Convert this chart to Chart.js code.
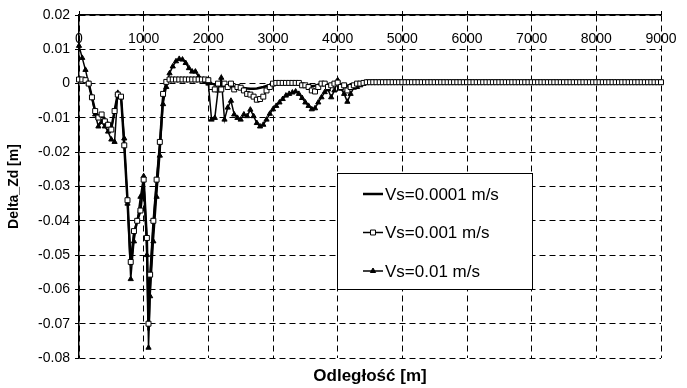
<!DOCTYPE html>
<html>
<head>
<meta charset="utf-8">
<script src="https://cdn.jsdelivr.net/npm/chart.js@4.4.0/dist/chart.umd.min.js"></script>
<style>
  body { margin: 0; background: #fff; }
  canvas { display: block; }
</style>
</head>
<body>
<canvas id="chart" width="687" height="388"></canvas>
<script>
// distance along profile [m]
const distances = [
  0, 50, 100, 150, 200, 250, 300, 350, 400, 450,
  500, 550, 600, 650, 700, 750, 800, 850, 900, 950,
  1000, 1050, 1075, 1100, 1150, 1200, 1250, 1300, 1350, 1400,
  1450, 1500, 1550, 1600, 1650, 1700, 1750, 1800, 1850, 1900,
  1950, 2000, 2050, 2100, 2150, 2200, 2250, 2300, 2350, 2400,
  2450, 2500, 2550, 2600, 2650, 2700, 2750, 2800, 2850, 2900,
  2950, 3000, 3050, 3100, 3150, 3200, 3250, 3300, 3350, 3400,
  3450, 3500, 3550, 3600, 3650, 3700, 3750, 3800, 3850, 3900,
  3950, 4000, 4050, 4100, 4150, 4200, 4250, 4300, 4350, 4400,
  4450, 4500, 4550, 4600, 4650, 4700, 4750, 4800, 4850, 4900,
  4950, 5000, 5050, 5100, 5150, 5200, 5250, 5300, 5350, 5400,
  5450, 5500, 5550, 5600, 5650, 5700, 5750, 5800, 5850, 5900,
  5950, 6000, 6050, 6100, 6150, 6200, 6250, 6300, 6350, 6400,
  6450, 6500, 6550, 6600, 6650, 6700, 6750, 6800, 6850, 6900,
  6950, 7000, 7050, 7100, 7150, 7200, 7250, 7300, 7350, 7400,
  7450, 7500, 7550, 7600, 7650, 7700, 7750, 7800, 7850, 7900,
  7950, 8000, 8050, 8100, 8150, 8200, 8250, 8300, 8350, 8400,
  8450, 8500, 8550, 8600, 8650, 8700, 8750, 8800, 8850, 8900,
  8950, 9000
];

// Vs=0.0001 m/s
const dz00001 = [
  0.0012, 0.0012, 0.001, 0.0, -0.004, -0.008, -0.0095, -0.009, -0.0105, -0.0115,
  -0.013, -0.008, -0.003, -0.0035, -0.018, -0.034, -0.053, -0.044, -0.040, -0.037,
  -0.028, -0.046, -0.072, -0.057, -0.041, -0.029, -0.018, -0.004, 0.0, 0.0012,
  0.0012, 0.0012, 0.0012, 0.0012, 0.0012, 0.0012, 0.0012, 0.0012, 0.0012, 0.0012,
  0.0012, 0.001, 0.0, -0.0003, -0.0005, -0.0005, -0.0007, -0.0008, -0.001, -0.001,
  -0.0012, -0.0012, -0.0013, -0.0014, -0.0015, -0.0015, -0.0014, -0.0012, -0.001, -0.0007,
  -0.0004, 0.0, 0.0002, 0.0002, 0.0002, 0.0002, 0.0002, 0.0002, 0.0002, 0.0002,
  0.0, -0.0003, -0.0006, -0.0008, -0.0006, -0.0003, 0.0, 0.0, -0.0003, -0.0002,
  0.0, 0.0003, -0.0003, -0.0003, -0.0006, -0.0004, -0.0002, 0.0, 0.0002, 0.0003,
  0.0004, 0.0004, 0.0004, 0.0004, 0.0004, 0.0004, 0.0004, 0.0004, 0.0004, 0.0004,
  0.0004, 0.0004, 0.0004, 0.0004, 0.0004, 0.0004, 0.0004, 0.0004, 0.0004, 0.0004,
  0.0004, 0.0004, 0.0004, 0.0004, 0.0004, 0.0004, 0.0004, 0.0004, 0.0004, 0.0004,
  0.0004, 0.0004, 0.0004, 0.0004, 0.0004, 0.0004, 0.0004, 0.0004, 0.0004, 0.0004,
  0.0004, 0.0004, 0.0004, 0.0004, 0.0004, 0.0004, 0.0004, 0.0004, 0.0004, 0.0004,
  0.0004, 0.0004, 0.0004, 0.0004, 0.0004, 0.0004, 0.0004, 0.0004, 0.0004, 0.0004,
  0.0004, 0.0004, 0.0004, 0.0004, 0.0004, 0.0004, 0.0004, 0.0004, 0.0004, 0.0004,
  0.0004, 0.0004, 0.0004, 0.0004, 0.0004, 0.0004, 0.0004, 0.0004, 0.0004, 0.0004,
  0.0004, 0.0004, 0.0004, 0.0004, 0.0004, 0.0004, 0.0004, 0.0004, 0.0004, 0.0004,
  0.0004, 0.0004
];

// Vs=0.001 m/s
const dz0001 = [
  0.0012, 0.0012, 0.001, 0.0, -0.004, -0.008, -0.0099, -0.009, -0.011, -0.012,
  -0.0134, -0.008, -0.0032, -0.0038, -0.018, -0.034, -0.052, -0.043, -0.040, -0.037,
  -0.028, -0.045, -0.070, -0.0557, -0.040, -0.028, -0.017, -0.003, 0.0005, 0.0012,
  0.0012, 0.0012, 0.0012, 0.0012, 0.0012, 0.0012, 0.0012, 0.0012, 0.0012, 0.0012,
  0.0012, 0.001, -0.001, -0.0017, 0.0, -0.0017, 0.0, -0.001, 0.0, -0.0017,
  -0.001, -0.0012, -0.002, -0.003, -0.0032, -0.0038, -0.0047, -0.0045, -0.0038, -0.002,
  -0.001, 0.0, 0.0002, 0.0002, 0.0002, 0.0002, 0.0002, 0.0002, 0.0002, 0.0002,
  -0.0005, -0.0005, -0.001, -0.002, -0.0023, -0.001, 0.0, 0.0, -0.001, -0.0005,
  0.0, 0.0003, -0.001, -0.0005, -0.002, -0.001, -0.0005, 0.0, 0.0, 0.0002,
  0.0004, 0.0004, 0.0004, 0.0004, 0.0004, 0.0004, 0.0004, 0.0004, 0.0004, 0.0004,
  0.0004, 0.0004, 0.0004, 0.0004, 0.0004, 0.0004, 0.0004, 0.0004, 0.0004, 0.0004,
  0.0004, 0.0004, 0.0004, 0.0004, 0.0004, 0.0004, 0.0004, 0.0004, 0.0004, 0.0004,
  0.0004, 0.0004, 0.0004, 0.0004, 0.0004, 0.0004, 0.0004, 0.0004, 0.0004, 0.0004,
  0.0004, 0.0004, 0.0004, 0.0004, 0.0004, 0.0004, 0.0004, 0.0004, 0.0004, 0.0004,
  0.0004, 0.0004, 0.0004, 0.0004, 0.0004, 0.0004, 0.0004, 0.0004, 0.0004, 0.0004,
  0.0004, 0.0004, 0.0004, 0.0004, 0.0004, 0.0004, 0.0004, 0.0004, 0.0004, 0.0004,
  0.0004, 0.0004, 0.0004, 0.0004, 0.0004, 0.0004, 0.0004, 0.0004, 0.0004, 0.0004,
  0.0004, 0.0004, 0.0004, 0.0004, 0.0004, 0.0004, 0.0004, 0.0004, 0.0004, 0.0004,
  0.0004, 0.0004
];

// Vs=0.01 m/s
const dz001 = [
  0.011, 0.0075, 0.004, 0.0, -0.004, -0.009, -0.0125, -0.0112, -0.0125, -0.014,
  -0.0163, -0.017, -0.0027, -0.004, -0.016, -0.035, -0.057, -0.046, -0.040, -0.033,
  -0.027, -0.050, -0.077, -0.062, -0.046, -0.033, -0.021, -0.006, -0.001, 0.003,
  0.005, 0.0065, 0.0072, 0.007, 0.006, 0.0045, 0.0035, 0.0035, 0.002, 0.001,
  0.0005, 0.0, -0.0105, -0.010, -0.002, 0.0017, -0.0105, -0.007, -0.005, -0.009,
  -0.010, -0.0105, -0.009, -0.0095, -0.0076, -0.0095, -0.0115, -0.0125, -0.012, -0.0105,
  -0.0088, -0.0075, -0.0065, -0.0055, -0.0045, -0.0035, -0.003, -0.0026, -0.0023, -0.003,
  -0.0042, -0.0055, -0.0065, -0.0075, -0.0072, -0.0055, -0.004, -0.0025, -0.0017, -0.004,
  -0.002, 0.001, -0.0015, -0.003, -0.0053, -0.003, -0.0012, -0.001, -0.0005, 0.0,
  0.0004, 0.0004, 0.0004, 0.0004, 0.0004, 0.0004, 0.0004, 0.0004, 0.0004, 0.0004,
  0.0004, 0.0004, 0.0004, 0.0004, 0.0004, 0.0004, 0.0004, 0.0004, 0.0004, 0.0004,
  0.0004, 0.0004, 0.0004, 0.0004, 0.0004, 0.0004, 0.0004, 0.0004, 0.0004, 0.0004,
  0.0004, 0.0004, 0.0004, 0.0004, 0.0004, 0.0004, 0.0004, 0.0004, 0.0004, 0.0004,
  0.0004, 0.0004, 0.0004, 0.0004, 0.0004, 0.0004, 0.0004, 0.0004, 0.0004, 0.0004,
  0.0004, 0.0004, 0.0004, 0.0004, 0.0004, 0.0004, 0.0004, 0.0004, 0.0004, 0.0004,
  0.0004, 0.0004, 0.0004, 0.0004, 0.0004, 0.0004, 0.0004, 0.0004, 0.0004, 0.0004,
  0.0004, 0.0004, 0.0004, 0.0004, 0.0004, 0.0004, 0.0004, 0.0004, 0.0004, 0.0004,
  0.0004, 0.0004, 0.0004, 0.0004, 0.0004, 0.0004, 0.0004, 0.0004, 0.0004, 0.0004,
  0.0004, 0.0004
];

const seriesLabels = ["Vs=0.0001 m/s", "Vs=0.001 m/s", "Vs=0.01 m/s"];

const fontFamily = "Arial, 'Liberation Sans', sans-serif";

function toPoints(values) {
  return distances.map((d, i) => ({ x: d, y: values[i] }));
}

// legend drawn as a framed box inside the plot, like the original
const boxLegend = {
  id: "boxLegend",
  afterDraw(chart) {
    const ctx = chart.ctx;
    const left = 337, top = 173, w = 195, h = 116;
    ctx.save();
    ctx.fillStyle = "#fff";
    ctx.fillRect(left, top, w, h);
    ctx.strokeStyle = "#000";
    ctx.lineWidth = 1;
    ctx.strokeRect(left + 0.5, top + 0.5, w, h);

    chart.data.datasets.forEach((ds, i) => {
      const y = 194 + i * 38.5;
      ctx.strokeStyle = "#000";
      ctx.lineWidth = ds.borderWidth;
      ctx.beginPath();
      ctx.moveTo(363, y);
      ctx.lineTo(383, y);
      ctx.stroke();
      if (ds.pointRadius > 0) {
        ctx.fillStyle = ds.pointBackgroundColor;
        ctx.strokeStyle = "#000";
        ctx.lineWidth = ds.pointBorderWidth;
        Chart.helpers.drawPoint(ctx, {
          pointStyle: ds.pointStyle,
          radius: ds.pointRadius,
          borderWidth: ds.pointBorderWidth,
          rotation: 0
        }, 373, y);
      }
      ctx.fillStyle = "#000";
      ctx.font = "17px " + fontFamily;
      ctx.textBaseline = "middle";
      ctx.textAlign = "left";
      ctx.fillText(ds.label, 385, y + 1);
    });
    ctx.restore();
  }
};

let ctx = document.getElementById("chart").getContext("2d");

let chart = new Chart(ctx, {
  type: "scatter",
  data: {
    datasets: [
      {
        label: seriesLabels[0],
        data: toPoints(dz00001),
        showLine: true,
        borderColor: "#000",
        borderWidth: 2.5,
        pointRadius: 0,
        order: 1,
        clip: 6
      },
      {
        label: seriesLabels[1],
        data: toPoints(dz0001),
        showLine: true,
        borderColor: "#000",
        borderWidth: 1.5,
        pointStyle: "rect",
        pointRadius: 3.5,
        pointBorderWidth: 1,
        pointBorderColor: "#000",
        pointBackgroundColor: "#fff",
        order: 0,
        clip: 6
      },
      {
        label: seriesLabels[2],
        data: toPoints(dz001),
        showLine: true,
        borderColor: "#000",
        borderWidth: 1.5,
        pointStyle: "triangle",
        pointRadius: 3,
        pointBorderWidth: 1,
        pointBorderColor: "#000",
        pointBackgroundColor: "#000",
        order: 2,
        clip: 6
      }
    ]
  },
  options: {
    responsive: false,
    animation: false,
    devicePixelRatio: 1,
    layout: { padding: { left: 0, right: 26, top: 0, bottom: 0 } },
    plugins: {
      legend: { display: false },
      tooltip: { enabled: false }
    },
    scales: {
      x: {
        type: "linear",
        position: "top",
        min: 0,
        max: 9000,
        afterFit: (s) => {
          s.height = 15;
          s.paddingLeft = 0;
          s.paddingRight = 0;
        },
        ticks: {
          stepSize: 1000,
          mirror: true,
          padding: 16,
          maxRotation: 0,
          autoSkip: false,
          color: "#000",
          font: { family: fontFamily, size: 14 },
          callback: (v) => String(v)
        },
        grid: { color: "#000", lineWidth: 1, tickLength: 4, tickColor: "#000", tickBorderDash: [] },
        border: { display: true, color: "#000", width: 1.5, dash: [6, 4] }
      },
      xTitle: {
        type: "linear",
        position: "bottom",
        axis: "x",
        min: 0,
        max: 9000,
        afterFit: (s) => { s.height = 30; },
        ticks: { display: false },
        grid: { display: false },
        border: { display: false },
        title: {
          display: true,
          text: "Odległość [m]",
          color: "#000",
          padding: { top: 0, bottom: 1 },
          font: { family: fontFamily, size: 17, weight: "bold" }
        }
      },
      y: {
        type: "linear",
        position: "left",
        min: -0.08,
        max: 0.02,
        afterFit: (s) => { s.width = 79; },
        ticks: {
          stepSize: 0.01,
          padding: 5,
          color: "#000",
          font: { family: fontFamily, size: 14 },
          callback: (v) => String(Math.round(v * 100) / 100)
        },
        grid: { color: "#000", lineWidth: 1, tickLength: 4, tickColor: "#000", tickBorderDash: [] },
        border: { display: true, color: "#000", width: 1.5, dash: [6, 4] },
        title: {
          display: true,
          text: "Delta_Zd [m]",
          color: "#000",
          padding: { top: 6, bottom: 0 },
          font: { family: fontFamily, size: 14, weight: "bold" }
        }
      }
    }
  },
  plugins: [boxLegend]
});
</script>
</body>
</html>
